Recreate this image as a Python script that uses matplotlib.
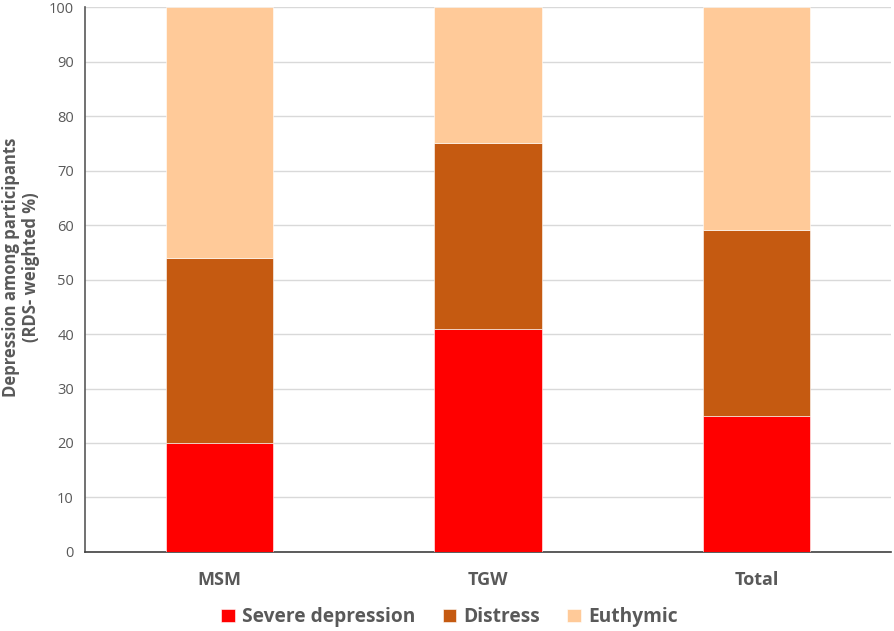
import matplotlib
matplotlib.use("Agg")
import matplotlib.pyplot as plt
import numpy as np

categories = ["MSM", "TGW", "Total"]
severe = [20, 41, 25]
distress = [34, 34, 34]
euthymic = [46, 25, 41]
series_names = ["Severe depression", "Distress", "Euthymic"]
colors = ["#FF0000", "#C55A11", "#FFCA99"]

plt.rcParams['font.family'] = ['Open Sans', 'DejaVu Sans']
gray = "#595959"

fig = plt.figure(figsize=(8.94, 6.31), dpi=100)
ax = fig.add_axes([0.0951, 0.1252, 0.9016, 0.8637])

x = np.arange(len(categories))
w = 0.4
bottom = np.zeros(len(categories))
for vals, name, c in zip([severe, distress, euthymic], series_names, colors):
    ax.bar(x, vals, w, bottom=bottom, color=c, label=name, edgecolor="white", linewidth=0.4, zorder=3)
    bottom += np.array(vals)

ax.set_xlim(-0.5, 2.5)
ax.set_ylim(0, 100)
ax.set_yticks(range(0, 101, 10))
ax.yaxis.grid(True, color="#D9D9D9", linewidth=1, zorder=0)
ax.set_axisbelow(True)
for s in ["top", "right"]:
    ax.spines[s].set_visible(False)
ax.spines["left"].set_color("#595959")
ax.spines["bottom"].set_color("#404040")
ax.spines["left"].set_linewidth(1.2)
ax.spines["bottom"].set_linewidth(1.2)
ax.tick_params(axis="both", length=0)
ax.tick_params(axis="y", labelsize=10.5, labelcolor=gray, pad=8)
ax.set_xticks(x)
ax.set_xticklabels(categories, fontsize=13, fontweight="bold", color=gray)
ax.tick_params(axis="x", pad=14)

fig.text(0.023, 0.577, "Depression among participants\n(RDS- weighted %)", rotation=90,
         ha="center", va="center", multialignment="center",
         fontsize=12, fontweight="bold", color=gray, linespacing=1.15)

fig.legend(loc="center", bbox_to_anchor=(0.503, 0.022), ncol=3, frameon=False,
           handlelength=0.7, handleheight=0.7, handletextpad=0.4,
           columnspacing=1.4, labelcolor=gray, prop={'weight': 'bold', 'size': 13.8})

fig.savefig("out.png", dpi=100)
